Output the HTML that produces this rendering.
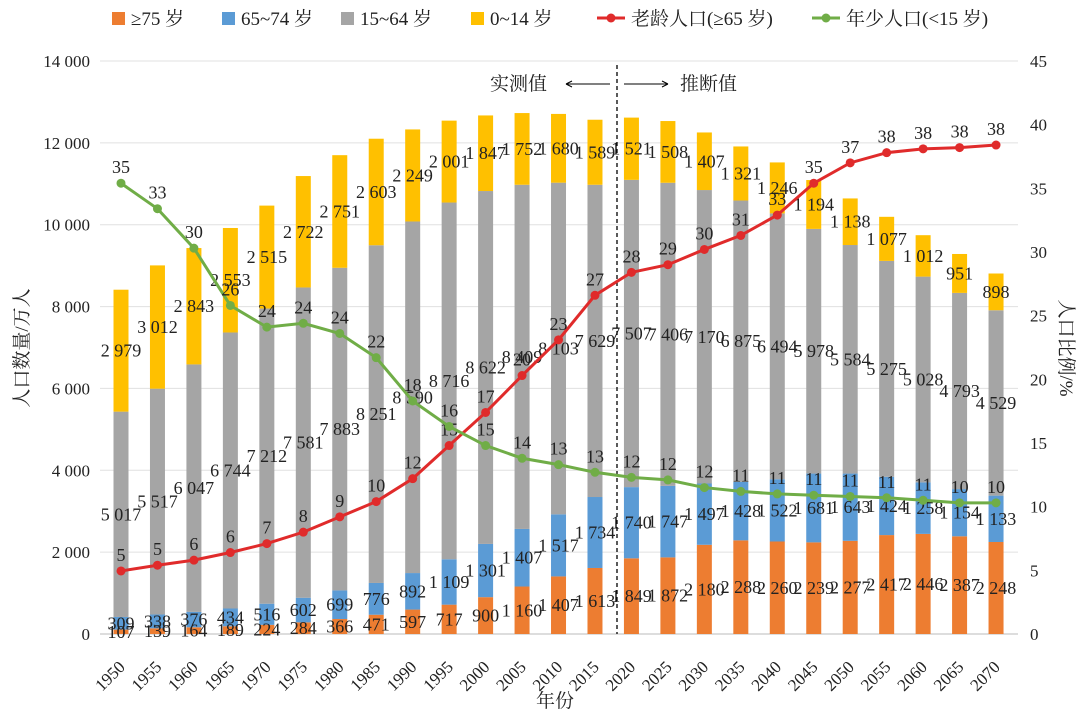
<!DOCTYPE html>
<html><head><meta charset="utf-8"><style>
body{margin:0;background:#fff;}
svg text{font-family:"Liberation Serif","Noto Serif CJK SC","Noto Sans CJK SC",serif;}
</style></head><body>
<svg id="c" width="1080" height="717" xmlns="http://www.w3.org/2000/svg"></svg>
<script>
const years=[1950,1955,1960,1965,1970,1975,1980,1985,1990,1995,2000,2005,2010,2015,2020,2025,2030,2035,2040,2045,2050,2055,2060,2065,2070];
const age75=[107,139,164,189,224,284,366,471,597,717,900,1160,1407,1613,1849,1872,2180,2288,2260,2239,2277,2417,2446,2387,2248];
const age65=[309,338,376,434,516,602,699,776,892,1109,1301,1407,1517,1734,1740,1747,1497,1428,1522,1681,1643,1424,1258,1154,1133];
const age15=[5017,5517,6047,6744,7212,7581,7883,8251,8590,8716,8622,8409,8103,7629,7507,7406,7170,6875,6494,5978,5584,5275,5028,4793,4529];
const age0=[2979,3012,2843,2553,2515,2722,2751,2603,2249,2001,1847,1752,1680,1589,1521,1508,1407,1321,1246,1194,1138,1077,1012,951,898];
const oldPct=[4.95,5.4,5.8,6.4,7.1,8.0,9.2,10.4,12.2,14.8,17.4,20.3,23.1,26.6,28.4,29,30.2,31.3,32.9,35.4,37,37.8,38.1,38.2,38.4];
const youngPct=[35.4,33.4,30.3,25.8,24.1,24.4,23.6,21.7,18.3,16.3,14.8,13.8,13.3,12.7,12.3,12.1,11.5,11.2,11.0,10.9,10.8,10.7,10.5,10.3,10.3];
const leftTicks=[0,2000,4000,6000,8000,10000,12000,14000];
const rightTicks=[0,5,10,15,20,25,30,35,40,45];

const NS="http://www.w3.org/2000/svg",svg=document.getElementById('c');
function el(t,a,p){const e=document.createElementNS(NS,t);for(const k in a)e.setAttribute(k,a[k]);(p||svg).appendChild(e);return e;}
const y0=634,yTop=61;
const yL=v=>y0-(v/14000)*(y0-yTop);
const yR=v=>y0-(v/45)*(y0-yTop);
const xC=i=>121+i*36.46;
const fmt=v=>v>=1000?Math.floor(v/1000)+" "+String(v%1000).padStart(3,'0'):String(v);
const bw=15;
leftTicks.forEach(v=>{const g=el('line',{x1:100,y1:yL(v),x2:1018,y2:yL(v),stroke:v==0?'#bbb':'#e0e0e0','stroke-width':1});
});
leftTicks.forEach(v=>{const t=el('text',{x:90,y:yL(v)+6,'text-anchor':'end','font-size':17,fill:'#222'});t.textContent=fmt(v);
});
rightTicks.forEach(v=>{const t=el('text',{x:1030,y:yR(v)+6,'font-size':17,fill:'#222'});t.textContent=v;
});
const series=[[age75,'#ED7D31'],[age65,'#5B9BD5'],[age15,'#A5A5A5'],[age0,'#FFC000']];
years.forEach((yr,i)=>{let base=0;const g=el('g',{});
series.forEach(([arr,c])=>{const v=arr[i];const r=el('rect',{x:xC(i)-bw/2,y:yL(base+v),width:bw,height:yL(base)-yL(base+v),fill:c},g);
base+=v;});
const t=el('text',{x:xC(i)+5,y:668,'font-size':17,fill:'#222','text-anchor':'end',transform:`rotate(-45 ${xC(i)+5} 668)`});t.textContent=yr;
});
years.forEach((yr,i)=>{let base=0;series.forEach(([arr],k)=>{const v=arr[i];let cy=(yL(base)+yL(base+v))/2+6;
const t=el('text',{x:xC(i),y:cy,'font-size':18,fill:'#222','text-anchor':'middle'});t.textContent=fmt(v);
base+=v;});});
const d=el('line',{x1:617,y1:65,x2:617,y2:634,stroke:'#000','stroke-dasharray':'4,3','stroke-width':1.3});

let t=el('text',{x:490,y:90,'font-size':19,fill:'#222'});t.textContent='实测值';
t=el('text',{x:680,y:90,'font-size':19,fill:'#222'});t.textContent='推断值';
el('path',{d:'M566 84 H610 M566 84 l6 -3 M566 84 l6 3',stroke:'#000',fill:'none'});
el('path',{d:'M624 84 H668 M668 84 l-6 -3 M668 84 l-6 3',stroke:'#000',fill:'none'});
[[oldPct,'#E02B2B','old-age-line'],[youngPct,'#70AD47','youth-line']].forEach(([arr,c,n])=>{
const p=el('polyline',{points:arr.map((v,i)=>xC(i)+','+yR(v)).join(' '),fill:'none',stroke:c,'stroke-width':3});

arr.forEach((v,i)=>{const ci=el('circle',{cx:xC(i),cy:yR(v),r:4.5,fill:c});
const tt=el('text',{x:xC(i),y:yR(v)-10,'font-size':18,fill:'#222','text-anchor':'middle'});tt.textContent=Math.round(v);
});});
t=el('text',{x:28,y:348,'font-size':19,fill:'#222','text-anchor':'middle',transform:'rotate(-90 28 348)'});t.textContent='人口数量/万人';
t=el('text',{x:1060,y:348,'font-size':19,fill:'#222','text-anchor':'middle',transform:'rotate(90 1060 348)'});t.textContent='人口比例/%';
t=el('text',{x:555,y:707,'font-size':19,fill:'#222','text-anchor':'middle'});t.textContent='年份';
const leg=[['sq','#ED7D31','≥75 岁',112],['sq','#5B9BD5','65~74 岁',222],['sq','#A5A5A5','15~64 岁',341],['sq','#FFC000','0~14 岁',471],['ln','#E02B2B','老龄人口(≥65 岁)',597],['ln','#70AD47','年少人口(<15 岁)',812]];
leg.forEach(([k,c,s,x])=>{const g=el('g',{});
let tx;if(k=='sq'){el('rect',{x:x,y:12,width:13,height:13,fill:c},g);tx=x+19;}
else{el('line',{x1:x,y1:18,x2:x+28,y2:18,stroke:c,'stroke-width':3},g);el('circle',{cx:x+14,cy:18,r:4.5,fill:c},g);tx=x+34;}
const tt=el('text',{x:tx,y:25,'font-size':19,fill:'#222'},g);tt.textContent=s;});
</script>
</body></html>
